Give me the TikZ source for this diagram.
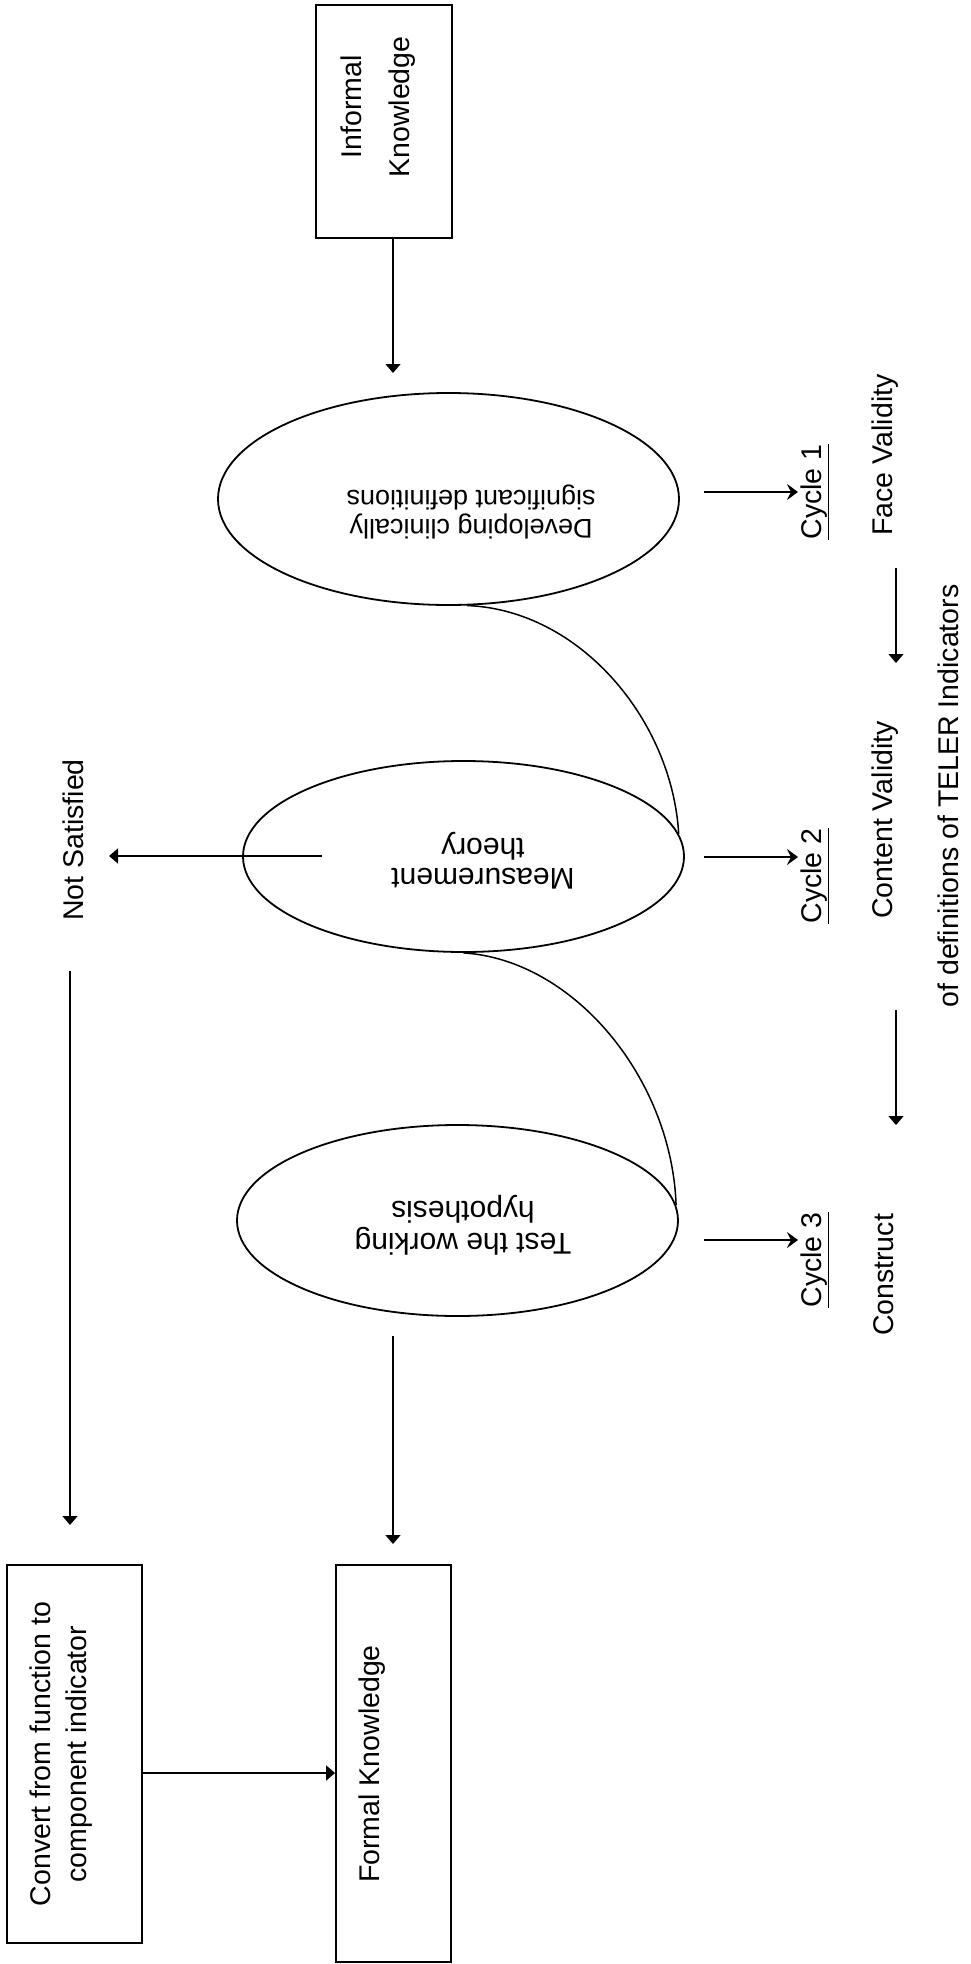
\documentclass[tikz,border=0pt]{standalone}
\usepackage{fontspec}
\setmainfont{Liberation Sans}
\usetikzlibrary{arrows.meta,shapes.geometric}
\begin{document}
\begin{tikzpicture}[x=1pt,y=-1pt,
  box/.style={draw, rectangle, inner sep=0pt, line width=1.8pt},
  oval/.style={draw, ellipse, inner sep=0pt, line width=1.8pt},
  conn/.style={line width=1.5pt},
  arr/.style={line width=1.5pt, -{Triangle[length=9pt,width=15pt]}},
  carr/.style={line width=1.5pt, -{Stealth[length=11pt,width=16pt,inset=4pt]}},
  lbl/.style={font=\fontsize{28.5}{34}\selectfont, inner sep=0pt, rotate=90, align=center},
  otxt/.style={inner sep=0pt, rotate=180, align=center},
  ]
\path[use as bounding box] (0,0) rectangle (971,1964);

% boxes
\node[box, minimum width=136pt, minimum height=233pt] (ik) at (384,121.5) {};
\node[lbl, font=\fontsize{28.5}{48}\selectfont] (ikt) at (378,107) {Informal\\Knowledge};
\node[box, minimum width=135pt, minimum height=378pt] (conv) at (74.5,1754) {};
\node[lbl, font=\fontsize{28.5}{36}\selectfont] (convt) at (61.5,1754) {Convert from function to\\component indicator};
\node[box, minimum width=115pt, minimum height=397pt] (form) at (393.5,1763.5) {};
\node[lbl] (formt) at (372,1764) {Formal Knowledge};

% ellipses
\node[oval, minimum width=461pt, minimum height=212pt] (e1) at (448.5,499) {};
\node[otxt, font=\fontsize{27}{29}\selectfont] (e1t) at (471,512) {Developing clinically\\significant definitions};
\node[oval, minimum width=441pt, minimum height=191pt] (e2) at (463.5,856.5) {};
\node[otxt, font=\fontsize{30}{30}\selectfont] (e2t) at (483,861) {Measurement\\theory};
\node[oval, minimum width=441pt, minimum height=191pt] (e3) at (457.5,1220.5) {};
\node[otxt, font=\fontsize{30}{32}\selectfont] (e3t) at (463,1225) {Test the working\\hypothesis};

% labels
\node[lbl] (c1) at (815,492) {\underline{Cycle 1}};
\node[lbl] (c2) at (815,876) {\underline{Cycle 2}};
\node[lbl] (c3) at (815,1260) {\underline{Cycle 3}};
\node[lbl] (fv) at (885,455) {Face Validity};
\node[lbl] (cv) at (885,820) {Content Validity};
\node[lbl] (cs) at (884,1275) {Construct};
\node[lbl] (def) at (948,796) {of definitions of TELER Indicators};
\node[lbl] (ns) at (73,840) {Not Satisfied};

% coordinates for free ends
\coordinate (ikA) at (393,373);
\coordinate (a1s) at (704,492);  \coordinate (a1e) at (798,492);
\coordinate (a2s) at (704,857);  \coordinate (a2e) at (798,857);
\coordinate (a3s) at (704,1240); \coordinate (a3e) at (798,1240);
\coordinate (d1s) at (896,568);  \coordinate (d1e) at (896,663);
\coordinate (d2s) at (896,1010); \coordinate (d2e) at (896,1125);
\coordinate (nss) at (322,856);  \coordinate (nse) at (109,856);
\coordinate (ls) at (70,971);    \coordinate (le) at (70,1525);
\coordinate (fs) at (393,1336);  \coordinate (fe) at (393,1544);
\coordinate (ya) at (0,1773);

% connectors
\draw[arr] (ik.south -| ikA) -- (ikA);
\draw[carr] (a1s) -- (a1e);
\draw[carr] (a2s) -- (a2e);
\draw[carr] (a3s) -- (a3e);
\draw[arr] (d1s) -- (d1e);
\draw[arr] (d2s) -- (d2e);
\draw[arr] (nss) -- (nse);
\draw[arr] (ls) -- (le);
\draw[arr] (fs) -- (fe);
\draw[arr] (conv.east |- ya) -- (form.west |- ya);

% S-shaped links between the cycles
\draw[conn] (e1.-80) .. controls (580,610) and (672,720) .. (e2.6);
\draw[conn] (e2.south) .. controls (575,960) and (672,1080) .. (e3.4);
\end{tikzpicture}
\end{document}
